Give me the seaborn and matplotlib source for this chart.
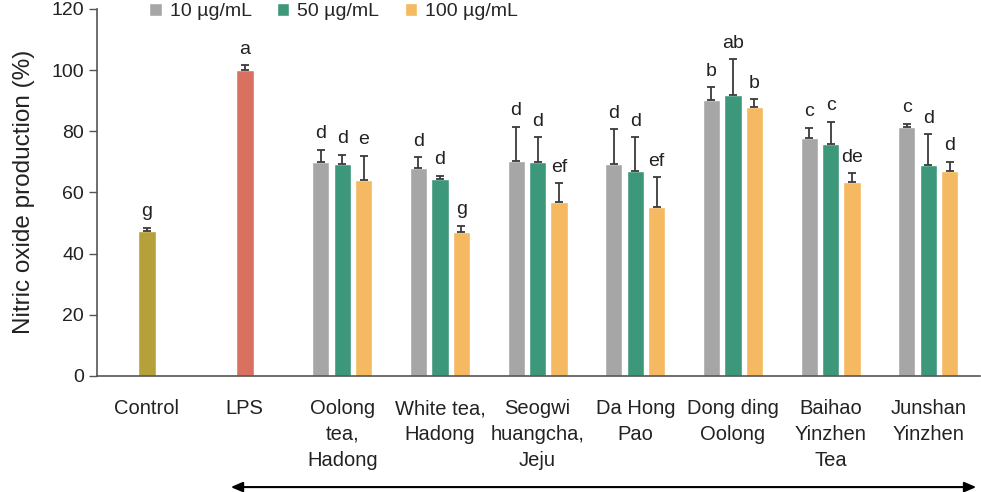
import numpy as np
import pandas as pd
import matplotlib
matplotlib.use('Agg')
import matplotlib.pyplot as plt
import seaborn as sns

categories = ['Control', 'LPS', 'Oolong\ntea,\nHadong', 'White tea,\nHadong',
              'Seogwi\nhuangcha,\nJeju', 'Da Hong\nPao', 'Dong ding\nOolong',
              'Baihao\nYinzhen\nTea', 'Junshan\nYinzhen']
teas = categories[2:]
doses = ['10 µg/mL', '50 µg/mL', '100 µg/mL']

# control / LPS
ctrl_values = [47.5, 100.0]
ctrl_err = [1.0, 1.5]
ctrl_letters = ['g', 'a']

# tea extracts, per dose
val_10 = [70.0, 68.1, 70.4, 69.3, 90.2, 77.8, 81.3]
val_50 = [69.3, 64.5, 70.0, 67.1, 91.9, 75.8, 68.8]
val_100 = [64.0, 47.0, 56.7, 55.3, 88.0, 63.4, 67.1]
err_10 = [3.9, 3.4, 11.1, 11.3, 4.1, 3.2, 1.1]
err_50 = [2.9, 1.0, 8.0, 10.9, 11.6, 7.3, 10.2]
err_100 = [7.9, 2.0, 6.3, 9.6, 2.4, 2.8, 2.9]
let_10 = ['d', 'd', 'd', 'd', 'b', 'c', 'c']
let_50 = ['d', 'd', 'd', 'd', 'ab', 'c', 'd']
let_100 = ['e', 'g', 'ef', 'ef', 'b', 'de', 'd']

sns.set_style('white')
plt.rcParams['font.family'] = ['Liberation Sans', 'DejaVu Sans']

fig, ax = plt.subplots(figsize=(9.81, 4.92), dpi=100)
fig.subplots_adjust(left=0.099, right=0.999, bottom=0.236, top=0.982)

ctrl_df = pd.DataFrame({'group': categories[:2], 'value': ctrl_values})
sns.barplot(data=ctrl_df, x='group', y='value', hue='group', order=categories,
            palette=['#B5A03A', '#DA7060'], width=0.185, errorbar=None,
            saturation=1, legend=False, ax=ax)
n_ctrl = len(ax.containers)

tea_df = pd.DataFrame({
    'tea': teas * 3,
    'dose': [doses[0]] * 7 + [doses[1]] * 7 + [doses[2]] * 7,
    'value': val_10 + val_50 + val_100,
})
sns.barplot(data=tea_df, x='tea', y='value', hue='dose', order=categories,
            hue_order=doses, palette=['#A6A6A6', '#3D977B', '#F5B961'],
            width=0.66, gap=0.2, errorbar=None, saturation=1, ax=ax)
bar_conts = list(ax.containers)

ecol = '#3a3a3a'
lfs = 14
ctrl_bars = sorted([p for c in bar_conts[:n_ctrl] for p in c], key=lambda p: p.get_x())
xs = [p.get_x() + p.get_width() / 2 for p in ctrl_bars]
ax.errorbar(xs, ctrl_values, yerr=[[0] * 2, ctrl_err], fmt='none', ecolor=ecol,
            elinewidth=1.3, capsize=3, capthick=1.3)
for x, v, e, t in zip(xs, ctrl_values, ctrl_err, ctrl_letters):
    ax.text(x, v + e + 2.5, t, ha='center', va='bottom', fontsize=lfs, color='#222222')

for cont, vals, errs, lets in zip(bar_conts[n_ctrl:], [val_10, val_50, val_100],
                                  [err_10, err_50, err_100], [let_10, let_50, let_100]):
    bars = sorted(cont, key=lambda p: p.get_x())
    xs = [p.get_x() + p.get_width() / 2 for p in bars]
    ax.errorbar(xs, vals, yerr=[[0] * len(vals), errs], fmt='none', ecolor=ecol,
                elinewidth=1.3, capsize=3, capthick=1.3)
    for x, v, e, t in zip(xs, vals, errs, lets):
        ax.text(x, v + e + 2.5, t, ha='center', va='bottom', fontsize=lfs, color='#222222')

ax.set_xlim(-0.51, 8.53)
ax.set_ylim(0, 120)
ax.set_yticks(range(0, 121, 20))
ax.set_xlabel('')
ax.set_ylabel('Nitric oxide production (%)', fontsize=17.5, labelpad=12, color='#222222')
ax.tick_params(axis='y', labelsize=14, length=6, width=1, color='#555555', left=True,
               labelcolor='#222222')
ax.tick_params(axis='x', labelsize=14.5, length=0, pad=17, labelcolor='#222222')
for lab in ax.get_xticklabels():
    lab.set_linespacing(1.45)
    lab.set_va('top')
sns.despine(ax=ax)
for s in ['left', 'bottom']:
    ax.spines[s].set_color('#555555')
    ax.spines[s].set_linewidth(1.2)

ax.legend(loc='center left', bbox_to_anchor=(0.152, 0.976), bbox_transform=fig.transFigure,
          ncol=3, frameon=False, fontsize=14, handlelength=0.65, handleheight=0.65,
          handletextpad=0.4, columnspacing=1.3, borderpad=0, borderaxespad=0)

ax.annotate('', xy=(0.998, 0.010), xytext=(228 / 981, 0.010), xycoords='figure fraction',
            arrowprops=dict(arrowstyle='<|-|>,head_length=0.7,head_width=0.3',
                            color='black', lw=1.5))

fig.savefig('out.png', dpi=100)
